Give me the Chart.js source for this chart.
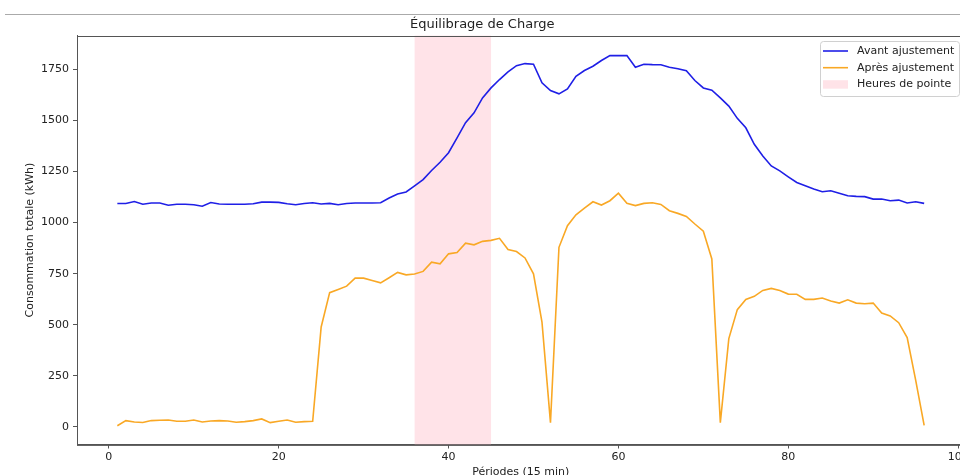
<!DOCTYPE html>
<html>
<head>
<meta charset="utf-8">
<script src="https://cdn.jsdelivr.net/npm/chart.js@4.4.1/dist/chart.umd.min.js"></script>
<style>
  body { margin: 0; background: #fff; }
  #wrap { width: 960px; height: 475px; overflow: hidden; position: relative; }
  canvas { display: block; }
</style>
</head>
<body>
<div id="wrap"><canvas id="myChart" width="975" height="485"></canvas></div>
<script>
// ---------------- Données ----------------
var periodes = [1,2,3,4,5,6,7,8,9,10,11,12,13,14,15,16,17,18,19,20,21,22,23,24,
    25,26,27,28,29,30,31,32,33,34,35,36,37,38,39,40,41,42,43,44,45,46,47,48,
    49,50,51,52,53,54,55,56,57,58,59,60,61,62,63,64,65,66,67,68,69,70,71,72,
    73,74,75,76,77,78,79,80,81,82,83,84,85,86,87,88,89,90,91,92,93,94,95,96];
var avantAjustement = [1093,1093,1103,1090,1096,1096,1085,1090,1090,1087,1080,1098,
    1091,1090,1090,1090,1092,1100,1100,1099,1092,1087,1093,1097,
    1091,1094,1087,1093,1096,1096,1096,1097,1120,1140,1150,1180,
    1210,1255,1295,1342,1415,1489,1537,1610,1659,1700,1737,1768,
    1778,1775,1684,1646,1630,1654,1716,1744,1765,1793,1817,1817,
    1817,1760,1775,1773,1772,1760,1753,1743,1695,1659,1648,1610,
    1570,1510,1464,1383,1326,1277,1253,1224,1196,1180,1164,1151,
    1156,1144,1131,1128,1127,1115,1115,1107,1110,1096,1102,1094];
var apresAjustement = [6,31,24,22,31,33,34,28,28,34,24,29,
    31,29,23,26,31,39,21,28,34,23,26,28,
    489,657,673,689,728,728,717,705,730,756,744,748,
    761,806,798,847,853,899,891,908,913,923,868,858,
    827,749,513,21,879,985,1038,1071,1102,1086,1107,1144,
    1094,1083,1094,1097,1089,1058,1045,1030,993,958,822,21,
    432,574,624,639,668,678,668,650,649,624,624,631,
    616,606,622,606,603,606,557,543,510,437,229,8];
var heuresPointe = [36, 45];
var xTicks = [0, 20, 40, 60, 80, 100];
var yTicks = [0, 250, 500, 750, 1000, 1250, 1500, 1750];
var legendLabels = ["Avant ajustement", "Après ajustement", "Heures de pointe"];

var FONT = "'DejaVu Sans', sans-serif";
var PINK = 'rgba(255, 192, 203, 0.45)';

function toPoints(xs, ys) {
    var pts = [];
    for (var i = 0; i < xs.length; i++) pts.push({x: xs[i], y: ys[i]});
    return pts;
}

// zone des heures de pointe
var peakPlugin = {
    id: 'peak',
    beforeDatasetsDraw: function (chart) {
        var c = chart.ctx, a = chart.chartArea, x = chart.scales.x;
        var x0 = x.getPixelForValue(heuresPointe[0]);
        var x1 = x.getPixelForValue(heuresPointe[1]);
        c.save();
        c.fillStyle = PINK;
        c.fillRect(x0, a.top, x1 - x0, a.bottom - a.top);
        c.restore();
    }
};

// cadre, ligne du haut et légende
var decorPlugin = {
    id: 'decor',
    afterDraw: function (chart) {
        var c = chart.ctx, a = chart.chartArea;
        c.save();
        c.strokeStyle = '#555';
        c.lineWidth = 1;
        c.strokeRect(Math.round(a.left) + 0.5, Math.round(a.top) + 0.5,
            a.right - a.left, a.bottom - a.top);
        c.strokeStyle = '#aaa';
        c.beginPath();
        c.moveTo(5, 14.5);
        c.lineTo(975, 14.5);
        c.stroke();

        // légende
        var bx = 820.5, by = 41.5, bw = 139, bh = 55;
        c.fillStyle = 'rgba(255,255,255,0.85)';
        c.strokeStyle = '#d0d0d0';
        c.beginPath();
        c.roundRect(bx, by, bw, bh, 3);
        c.fill();
        c.stroke();
        var rows = [51, 67.7, 84.2];
        var ds = chart.data.datasets;
        c.font = '11px ' + FONT;
        c.textBaseline = 'middle';
        c.textAlign = 'left';
        for (var i = 0; i < legendLabels.length; i++) {
            var y = rows[i];
            if (i < ds.length) {
                c.strokeStyle = ds[i].borderColor;
                c.lineWidth = 1.6;
                c.beginPath();
                c.moveTo(823, y);
                c.lineTo(848, y);
                c.stroke();
            } else {
                c.fillStyle = PINK;
                c.fillRect(823, y - 4, 25, 8.5);
            }
            c.fillStyle = '#222';
            c.fillText(legendLabels[i], 857, y);
        }
        c.restore();
    }
};

function plainLabel(v) { return String(v); }

var ctx = document.getElementById("myChart").getContext('2d');
var myChart = new Chart(ctx, {
    type: 'line',
    data: {
        datasets: [{
            label: legendLabels[0],
            data: toPoints(periodes, avantAjustement),
            borderColor: '#1f1fe6',
            borderWidth: 1.6,
            pointRadius: 0,
            tension: 0,
            fill: false
        }, {
            label: legendLabels[1],
            data: toPoints(periodes, apresAjustement),
            borderColor: '#f9a825',
            borderWidth: 1.6,
            pointRadius: 0,
            tension: 0,
            fill: false
        }]
    },
    options: {
        responsive: false,
        animation: false,
        layout: { padding: { left: 0, right: 10.5, top: 0, bottom: 0 } },
        plugins: {
            legend: { display: false },
            tooltip: { enabled: false },
            title: {
                display: true,
                text: 'Équilibrage de Charge',
                color: '#222',
                font: { family: FONT, size: 13, weight: 'normal' },
                padding: { top: 17, bottom: 3 }
            }
        },
        scales: {
            x: {
                type: 'linear',
                min: -3.75,
                max: 100.75,
                afterBuildTicks: function (s) {
                    s.ticks = xTicks.map(function (v) { return {value: v}; });
                },
                afterFit: function (s) { s.height = 40.5; },
                grid: { drawOnChartArea: false, drawTicks: true, tickLength: 4, tickColor: '#555' },
                border: { display: true, color: '#555' },
                ticks: { color: '#222', font: { family: FONT, size: 11 }, padding: 2, maxRotation: 0, callback: plainLabel },
                title: {
                    display: true,
                    text: 'Périodes (15 min)',
                    color: '#222',
                    font: { family: FONT, size: 11 },
                    padding: { top: 0, bottom: 6.4 }
                }
            },
            y: {
                min: -86,
                max: 1915,
                afterBuildTicks: function (s) {
                    s.ticks = yTicks.map(function (v) { return {value: v}; });
                },
                afterFit: function (s) { s.width = 77; },
                grid: { drawOnChartArea: false, drawTicks: true, tickLength: 4, tickColor: '#555' },
                border: { display: true, color: '#555' },
                ticks: { color: '#222', font: { family: FONT, size: 11 }, padding: 4, callback: plainLabel },
                title: {
                    display: true,
                    text: 'Consommation totale (kWh)',
                    color: '#222',
                    font: { family: FONT, size: 11 },
                    padding: { top: 23.4, bottom: 0 }
                }
            }
        }
    },
    plugins: [peakPlugin, decorPlugin]
});
</script>
</body>
</html>
